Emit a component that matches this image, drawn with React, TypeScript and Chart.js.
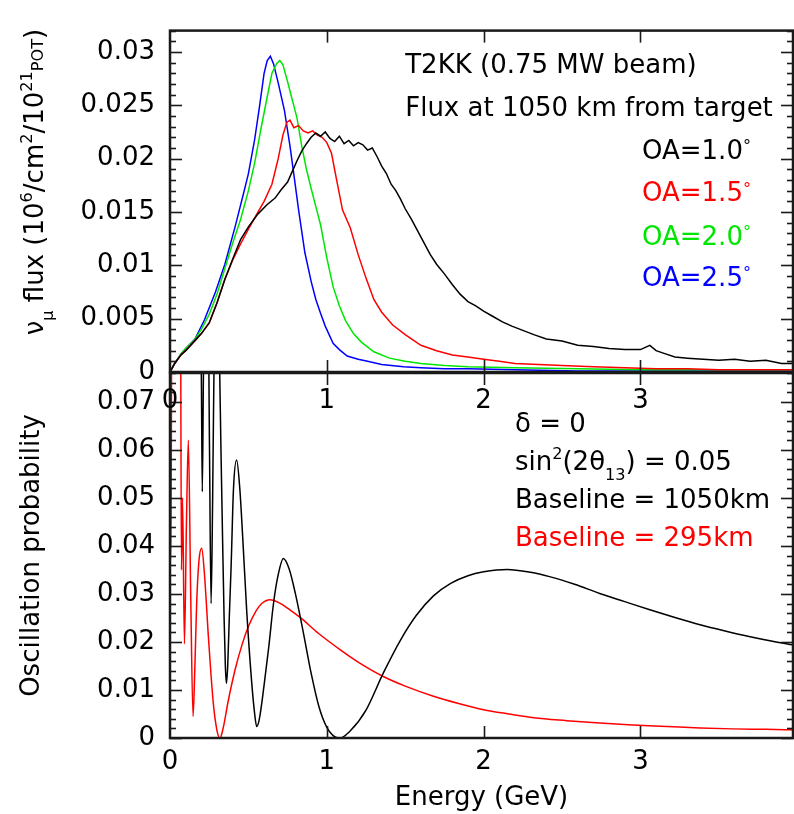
import React, { useEffect, useRef } from 'react';
import { Chart, registerables } from 'chart.js';

Chart.register(...registerables);

const FONT = "'DejaVu Sans', 'Liberation Sans', sans-serif";
const FS = 26;
const X_MAX = 3.973;

// ---------- Top panel: flux (energy in GeV, flux values) ----------
const energyTicks = [0, 1, 2, 3];

const oa10Energy = [0, 0.03, 0.07, 0.1, 0.15, 0.2, 0.25, 0.3, 0.35, 0.4, 0.45, 0.5, 0.56, 0.62, 0.67, 0.71, 0.75, 0.78, 0.81, 0.84, 0.87, 0.9, 0.93, 0.96, 0.99, 1.02, 1.05, 1.08, 1.11, 1.14, 1.17, 1.2, 1.23, 1.26, 1.29, 1.32, 1.35, 1.38, 1.41, 1.44, 1.47, 1.5, 1.54, 1.58, 1.62, 1.66, 1.7, 1.75, 1.8, 1.85, 1.9, 1.95, 2.0, 2.06, 2.12, 2.18, 2.25, 2.32, 2.4, 2.5, 2.6, 2.7, 2.8, 2.9, 3.0, 3.06, 3.1, 3.16, 3.22, 3.3, 3.4, 3.5, 3.6, 3.7, 3.8, 3.9, 3.97];
const oa10Flux = [0, 0.0008, 0.0016, 0.0020, 0.0028, 0.0036, 0.0046, 0.0065, 0.0087, 0.0106, 0.0124, 0.0136, 0.0148, 0.0157, 0.0163, 0.0171, 0.0178, 0.0188, 0.0198, 0.0207, 0.0214, 0.0220, 0.0224, 0.0221, 0.0225, 0.0219, 0.0216, 0.0221, 0.0214, 0.0217, 0.0212, 0.0215, 0.0213, 0.0208, 0.0210, 0.0202, 0.0193, 0.0186, 0.0176, 0.0170, 0.0162, 0.0153, 0.0143, 0.0132, 0.0121, 0.0110, 0.0101, 0.0092, 0.0082, 0.0073, 0.0066, 0.0062, 0.0057, 0.0052, 0.0047, 0.0043, 0.0039, 0.0035, 0.0031, 0.0029, 0.0025, 0.0024, 0.0022, 0.0021, 0.0021, 0.0025, 0.0020, 0.0017, 0.0014, 0.0013, 0.0012, 0.0011, 0.0012, 0.0010, 0.0011, 0.0008, 0.0008];

const oa15Energy = [0, 0.03, 0.07, 0.1, 0.15, 0.2, 0.25, 0.3, 0.35, 0.4, 0.45, 0.5, 0.55, 0.6, 0.65, 0.69, 0.72, 0.745, 0.765, 0.79, 0.82, 0.85, 0.88, 0.91, 0.94, 0.97, 1.0, 1.03, 1.06, 1.1, 1.15, 1.2, 1.25, 1.3, 1.35, 1.42, 1.5, 1.6, 1.7, 1.8, 1.9, 2.0, 2.1, 2.2, 2.35, 2.5, 2.7, 2.9, 3.1, 3.3, 3.5, 3.7, 3.97];
const oa15Flux = [0, 0.0008, 0.0016, 0.0020, 0.0028, 0.0036, 0.0046, 0.0065, 0.0087, 0.0105, 0.0120, 0.0134, 0.0147, 0.0160, 0.0176, 0.0200, 0.0222, 0.0234, 0.0236, 0.0229, 0.0231, 0.0226, 0.0224, 0.0226, 0.0222, 0.0220, 0.0215, 0.0205, 0.0182, 0.0152, 0.0135, 0.0110, 0.0088, 0.0068, 0.0056, 0.0044, 0.0035, 0.0025, 0.0020, 0.0016, 0.0014, 0.0012, 0.0010, 0.0008, 0.0007, 0.0006, 0.0005, 0.0004, 0.0003, 0.0003, 0.0002, 0.0002, 0.0002];

const oa20Energy = [0, 0.03, 0.07, 0.1, 0.15, 0.2, 0.25, 0.3, 0.35, 0.4, 0.45, 0.5, 0.54, 0.58, 0.62, 0.65, 0.68, 0.70, 0.72, 0.75, 0.78, 0.81, 0.84, 0.87, 0.9, 0.93, 0.96, 1.0, 1.04, 1.08, 1.12, 1.17, 1.22, 1.3, 1.4, 1.5, 1.6, 1.75, 1.9, 2.2, 2.6, 3.0, 3.5, 3.97];
const oa20Flux = [0, 0.0008, 0.0017, 0.0022, 0.0029, 0.0040, 0.0054, 0.0073, 0.0097, 0.0121, 0.0143, 0.0170, 0.0196, 0.0228, 0.0258, 0.0280, 0.0289, 0.0292, 0.0288, 0.0272, 0.0255, 0.0238, 0.0212, 0.0190, 0.0172, 0.0155, 0.0138, 0.0107, 0.0080, 0.0062, 0.0048, 0.0036, 0.0028, 0.0019, 0.0013, 0.0010, 0.0008, 0.0006, 0.0005, 0.0004, 0.0003, 0.0002, 0.0002, 0.0002];

const oa25Energy = [0, 0.03, 0.07, 0.1, 0.16, 0.22, 0.29, 0.35, 0.415, 0.47, 0.5, 0.54, 0.57, 0.6, 0.62, 0.64, 0.66, 0.69, 0.73, 0.765, 0.79, 0.82, 0.86, 0.9, 0.93, 0.96, 0.99, 1.04, 1.08, 1.13, 1.2, 1.26, 1.35, 1.49, 1.6, 1.75, 1.9, 2.2, 2.6, 3.0, 3.5, 3.97];
const oa25Flux = [0, 0.0008, 0.0017, 0.0022, 0.0031, 0.0049, 0.0075, 0.0101, 0.0136, 0.0168, 0.0186, 0.0218, 0.0248, 0.0280, 0.0292, 0.0296, 0.0289, 0.0271, 0.0245, 0.0212, 0.0185, 0.0152, 0.0112, 0.0085, 0.0068, 0.0055, 0.0043, 0.0027, 0.0021, 0.0015, 0.0012, 0.0010, 0.0007, 0.0005, 0.0004, 0.0003, 0.0003, 0.0002, 0.0001, 0.0001, 0.0001, 0.0001];

// ---------- Bottom panel: oscillation probability ----------
const baseline1050Energy = [0, 0.185, 0.2, 0.206, 0.213, 0.225, 0.24, 0.252, 0.262, 0.272, 0.285, 0.3, 0.315, 0.325, 0.335, 0.345, 0.353, 0.36, 0.368, 0.378, 0.39, 0.405, 0.425, 0.445, 0.465, 0.49, 0.52, 0.54, 0.553, 0.57, 0.6, 0.63, 0.66, 0.69, 0.723, 0.76, 0.8, 0.85, 0.9, 0.95, 1.0, 1.04, 1.084, 1.15, 1.25, 1.36, 1.47, 1.57, 1.68, 1.79, 1.9, 2.0, 2.15, 2.3, 2.42, 2.58, 2.74, 2.9, 3.06, 3.22, 3.38, 3.54, 3.7, 3.85, 3.97];
const baseline1050Prob = [0.1, 0.1, 0.075, 0.0513, 0.075, 0.1, 0.1, 0.06, 0.028, 0.05, 0.09, 0.1, 0.08, 0.06, 0.042, 0.025, 0.015, 0.0114, 0.015, 0.025, 0.036, 0.052, 0.0579, 0.052, 0.041, 0.026, 0.012, 0.005, 0.0024, 0.004, 0.011, 0.019, 0.028, 0.034, 0.0374, 0.0352, 0.030, 0.022, 0.0135, 0.0065, 0.0022, 0.0005, 0.0, 0.0015, 0.0058, 0.0135, 0.0204, 0.0255, 0.0296, 0.0322, 0.0338, 0.0346, 0.0351, 0.0345, 0.0336, 0.0320, 0.0301, 0.0284, 0.0267, 0.0251, 0.0236, 0.0223, 0.0211, 0.0201, 0.0194];

const baseline295Energy = [0, 0.006, 0.012, 0.066, 0.073, 0.08, 0.092, 0.105, 0.117, 0.132, 0.147, 0.158, 0.17, 0.185, 0.202, 0.22, 0.245, 0.276, 0.3, 0.319, 0.34, 0.37, 0.415, 0.46, 0.5, 0.55, 0.585, 0.638, 0.7, 0.76, 0.83, 0.95, 1.084, 1.2, 1.36, 1.5, 1.68, 1.84, 2.0, 2.16, 2.32, 2.53, 2.74, 2.95, 3.17, 3.38, 3.59, 3.8, 3.97];
const baseline295Prob = [0.037, 0.037, 0.1, 0.1, 0.035, 0.05, 0.0196, 0.045, 0.062, 0.03, 0.0045, 0.014, 0.028, 0.037, 0.0395, 0.034, 0.021, 0.0073, 0.0015, 0.0, 0.0022, 0.0075, 0.0142, 0.0195, 0.0232, 0.0265, 0.028, 0.0288, 0.0281, 0.0268, 0.0251, 0.0217, 0.0184, 0.0158, 0.0128, 0.0108, 0.0087, 0.0072, 0.0059, 0.0050, 0.0042, 0.0036, 0.0031, 0.0027, 0.0024, 0.0021, 0.0019, 0.0018, 0.0017];

const zip = (xs: number[], ys: number[]) => {
  const n = Math.min(xs.length, ys.length);
  const out: { x: number; y: number }[] = [];
  for (let i = 0; i < n; i++) out.push({ x: xs[i], y: ys[i] });
  return out;
};

// ---------- rich text helpers ----------
type Seg = { t: string; k?: 'sup' | 'sub' | 'small' | 'deg' };

function drawRich(ctx: CanvasRenderingContext2D, segs: Seg[], x: number, y: number, size: number, color: string, align: string) {
  const parts = segs.map((s) => {
    const sz = s.k ? size * 0.62 : size;
    let dy = 0;
    if (s.k === 'sup') dy = -size * 0.42;
    if (s.k === 'sub') dy = size * 0.4;
    if (s.k === 'deg') dy = -size * 0.3;
    ctx.font = `${sz}px ${FONT}`;
    return { t: s.t, sz, dy, w: ctx.measureText(s.t).width };
  });
  const total = parts.reduce((a, p) => a + p.w, 0);
  let cx = align === 'center' ? x - total / 2 : x;
  ctx.fillStyle = color;
  ctx.textBaseline = 'alphabetic';
  ctx.textAlign = 'left';
  for (const p of parts) {
    ctx.font = `${p.sz}px ${FONT}`;
    ctx.fillText(p.t, cx, y + p.dy);
    cx += p.w;
  }
}

const richTextPlugin = {
  id: 'richText',
  afterDraw(chart: any, _args: any, opts: any) {
    const { ctx, scales } = chart;
    for (const it of opts.items || []) {
      const px = it.px ? it.x : scales.x.getPixelForValue(it.x);
      const py = it.px ? it.y : scales.y.getPixelForValue(it.y);
      ctx.save();
      ctx.translate(px, py);
      if (it.rotate) ctx.rotate(it.rotate);
      drawRich(ctx, it.segs, 0, 0, it.size ?? FS, it.color ?? '#000', it.align ?? 'left');
      ctx.restore();
    }
  },
};

const framePlugin = {
  id: 'frame',
  afterDatasetsDraw(chart: any, _args: any, opts: any) {
    const { ctx, chartArea: a, scales } = chart;
    const x = scales.x;
    const y = scales.y;
    ctx.save();
    ctx.strokeStyle = '#1a1a1a';
    ctx.lineWidth = 1.6;
    const seg = (x1: number, y1: number, x2: number, y2: number) => {
      ctx.beginPath();
      ctx.moveTo(x1, y1);
      ctx.lineTo(x2, y2);
      ctx.stroke();
    };
    const n = Math.round((y.max - y.min) / opts.yMinor);
    for (let i = 0; i <= n; i++) {
      const v = y.min + i * opts.yMinor;
      if (v > y.max + 1e-12) break;
      const r = v / opts.yMajor;
      const major = Math.abs(r - Math.round(r)) < 1e-6;
      const len = major ? 12 : 6;
      const py = Math.round(y.getPixelForValue(v)) + 0.5;
      seg(a.left, py, a.left + len, py);
      seg(a.right, py, a.right - len, py);
    }
    for (const v of energyTicks) {
      if (v <= x.min) continue;
      const px = Math.round(x.getPixelForValue(v)) + 0.5;
      seg(px, a.bottom, px, a.bottom - 12);
      seg(px, a.top, px, a.top + 12);
    }
    ctx.lineWidth = 2.5;
    ctx.strokeRect(a.left, a.top, a.right - a.left, a.bottom - a.top);
    ctx.restore();
  },
};

const tickFont = { family: FONT, size: FS };
const fmt = (v: any) => String(+Number(v).toFixed(4));

function topConfig(): any {
  const line = (label: string, xs: number[], ys: number[], color: string) => ({
    label,
    data: zip(xs, ys),
    borderColor: color,
    borderWidth: 1.5,
    pointRadius: 0,
    tension: 0,
    fill: false,
  });
  return {
    type: 'line',
    data: {
      datasets: [
        line('OA=1.0', oa10Energy, oa10Flux, '#000000'),
        line('OA=1.5', oa15Energy, oa15Flux, '#ff0000'),
        line('OA=2.0', oa20Energy, oa20Flux, '#00e600'),
        line('OA=2.5', oa25Energy, oa25Flux, '#0000ff'),
      ],
    },
    options: {
      animation: false,
      responsive: false,
      layout: { padding: { left: 0, right: 1, top: 7, bottom: 384 } },
      scales: {
        x: {
          type: 'linear',
          min: 0,
          max: X_MAX,
          afterFit: (s: any) => { s.height = 58; },
          grid: { display: false, drawTicks: false },
          border: { display: false },
          ticks: { stepSize: 1, includeBounds: false, padding: 14, font: tickFont, color: '#000', maxRotation: 0, autoSkip: false },
        },
        y: {
          type: 'linear',
          min: 0,
          max: 0.032,
          afterFit: (s: any) => { s.width = 170; },
          grid: { display: false, drawTicks: false },
          border: { display: false },
          ticks: { stepSize: 0.005, includeBounds: false, padding: 15, font: tickFont, color: '#000', callback: fmt },
        },
      },
      plugins: {
        legend: { display: false },
        tooltip: { enabled: false },
        frame: { yMinor: 0.001, yMajor: 0.005 },
        richText: {
          items: [
            { px: true, x: 43, y: 182, rotate: -Math.PI / 2, align: 'center', segs: [
              { t: 'ν' }, { t: 'μ', k: 'sub' }, { t: ' flux (10' }, { t: '6', k: 'sup' }, { t: '/cm' }, { t: '2', k: 'sup' },
              { t: '/10' }, { t: '21', k: 'sup' }, { t: 'POT', k: 'small' }, { t: ')' },
            ] },
            { x: 1.5, y: 0.028, segs: [{ t: 'T2KK (0.75 MW beam)' }] },
            { x: 1.5, y: 0.02404, segs: [{ t: 'Flux at 1050 km from target' }] },
            { x: 3.01, y: 0.0200, color: '#000000', segs: [{ t: 'OA=1.0' }, { t: '°', k: 'deg' }] },
            { x: 3.01, y: 0.0160, color: '#ff0000', segs: [{ t: 'OA=1.5' }, { t: '°', k: 'deg' }] },
            { x: 3.01, y: 0.0119, color: '#00e600', segs: [{ t: 'OA=2.0' }, { t: '°', k: 'deg' }] },
            { x: 3.01, y: 0.0081, color: '#0000ff', segs: [{ t: 'OA=2.5' }, { t: '°', k: 'deg' }] },
          ],
        },
      },
    },
    plugins: [framePlugin, richTextPlugin],
  };
}

function bottomConfig(): any {
  const line = (label: string, xs: number[], ys: number[], color: string) => ({
    label,
    data: zip(xs, ys),
    borderColor: color,
    borderWidth: 1.5,
    pointRadius: 0,
    cubicInterpolationMode: 'monotone',
    fill: false,
    clip: { left: 0, top: 0, right: 0, bottom: 0 },
  });
  return {
    type: 'line',
    data: {
      datasets: [
        line('Baseline = 1050km', baseline1050Energy, baseline1050Prob, '#000000'),
        line('Baseline = 295km', baseline295Energy, baseline295Prob, '#ff0000'),
      ],
    },
    options: {
      animation: false,
      responsive: false,
      layout: { padding: { left: 0, right: 1, top: 373, bottom: 0 } },
      scales: {
        x: {
          type: 'linear',
          min: 0,
          max: X_MAX,
          afterFit: (s: any) => { s.height = 76; },
          grid: { display: false, drawTicks: false },
          border: { display: false },
          ticks: { stepSize: 1, includeBounds: false, padding: 9, font: tickFont, color: '#000', maxRotation: 0, autoSkip: false },
          title: { display: true, text: 'Energy (GeV)', font: tickFont, color: '#000', padding: { top: 0, bottom: 0 } },
        },
        y: {
          type: 'linear',
          min: 0,
          max: 0.076,
          afterFit: (s: any) => { s.width = 170; },
          grid: { display: false, drawTicks: false },
          border: { display: false },
          ticks: { stepSize: 0.01, includeBounds: false, padding: 15, font: tickFont, color: '#000', callback: fmt },
          title: { display: true, text: 'Oscillation probability', font: tickFont, color: '#000', padding: { top: 17, bottom: 0 } },
        },
      },
      plugins: {
        legend: { display: false },
        tooltip: { enabled: false },
        frame: { yMinor: 0.002, yMajor: 0.01 },
        richText: {
          items: [
            { x: 2.2, y: 0.0638, segs: [{ t: 'δ = 0' }] },
            { x: 2.2, y: 0.0559, segs: [{ t: 'sin' }, { t: '2', k: 'sup' }, { t: '(2θ' }, { t: '13', k: 'sub' }, { t: ') = 0.05' }] },
            { x: 2.2, y: 0.0479, segs: [{ t: 'Baseline = 1050km' }] },
            { x: 2.2, y: 0.0399, color: '#ff0000', segs: [{ t: 'Baseline = 295km' }] },
          ],
        },
      },
    },
    plugins: [framePlugin, richTextPlugin],
  };
}

export default function App() {
  const topRef = useRef<HTMLCanvasElement>(null);
  const bottomRef = useRef<HTMLCanvasElement>(null);

  useEffect(() => {
    const bottom = new Chart(bottomRef.current as HTMLCanvasElement, bottomConfig());
    const top = new Chart(topRef.current as HTMLCanvasElement, topConfig());
    return () => {
      top.destroy();
      bottom.destroy();
    };
  }, []);

  const cv: React.CSSProperties = { position: 'absolute', left: 0, top: 0, width: 794, height: 814 };
  return (
    <div style={{ position: 'absolute', left: 0, top: 0, width: 794, height: 814, background: '#fff' }}>
      <canvas ref={bottomRef} width={794} height={814} style={cv} />
      <canvas ref={topRef} width={794} height={814} style={cv} />
    </div>
  );
}
